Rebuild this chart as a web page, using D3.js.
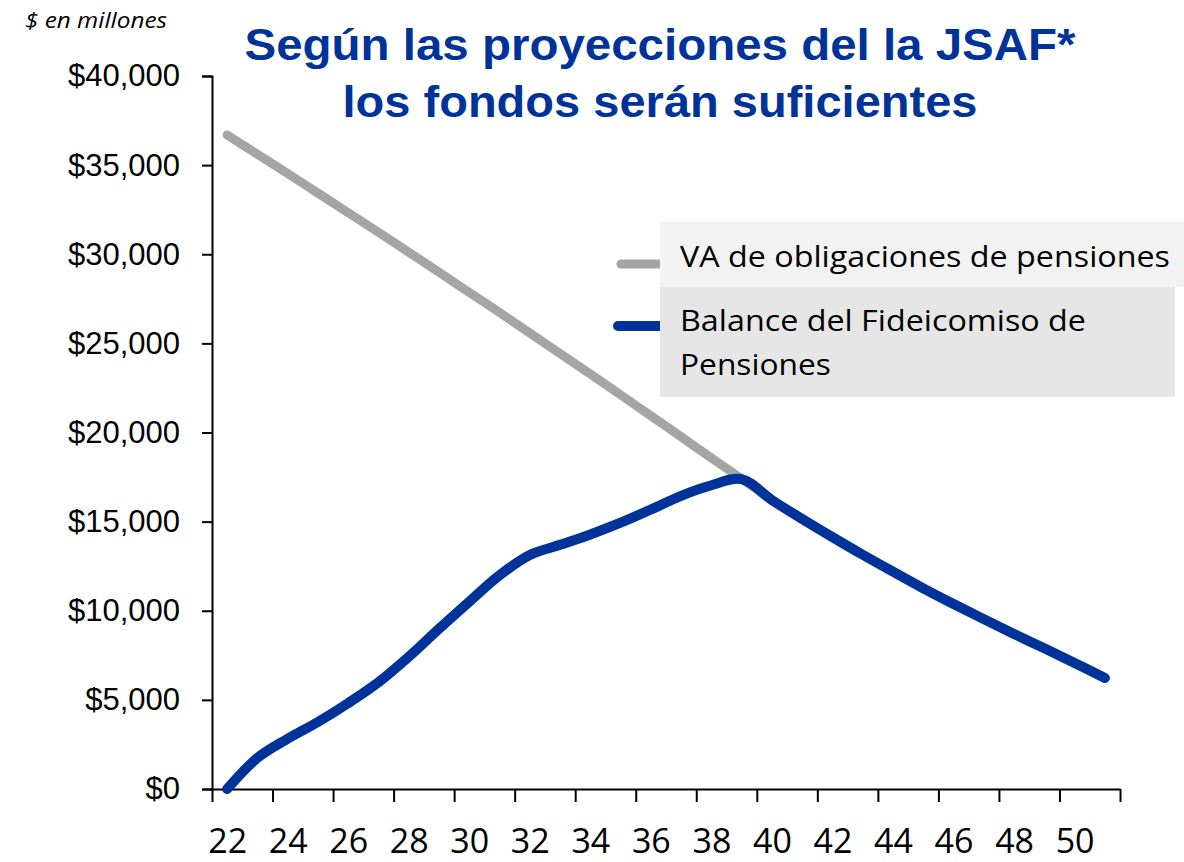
<!DOCTYPE html>
<html>
<head>
<meta charset="utf-8">
<script src="https://cdn.jsdelivr.net/npm/d3@7"></script>
<style>
  body { margin: 0; background: #fff; }
</style>
</head>
<body>
<div class="chart"></div>
<script>

// Datos
const years = [22,23,24,25,26,27,28,29,30,31,32,33,34,35,36,37,38,39,40,41,42,43,44,45,46,47,48,49,50,51];

const obligaciones = [36690,35610,34530,33430,32330,31230,30110,28990,27860,26730,25580,24430,23280,22110,20940,19760,18570,17400,
                      16210,15150,14130,13140,12190,11260,10380,9530,8700,7890,7070,6230];

const fideicomiso = [0,1740,2820,3760,4820,5990,7420,8990,10510,11990,13130,13700,14280,14940,15680,16450,17040,17380,
                     16210,15150,14130,13140,12190,11260,10380,9530,8700,7890,7070,6230];

const yTicks = [0,5000,10000,15000,20000,25000,30000,35000,40000];
const xLabels = [22,24,26,28,30,32,34,36,38,40,42,44,46,48,50];

const titleLines = ["Según las proyecciones del la JSAF*", "los fondos serán suficientes"];
const legendItems = ["VA de obligaciones de pensiones", "Balance del Fideicomiso de Pensiones"];

function drawChart(){

    const width = 1184;
    const height = 862;

    const svg = d3.select(".chart")
        .append("svg")
        .attr("width", width)
        .attr("height", height)
        .style("background", "#fff");

    const x = d3.scaleLinear()
        .domain([21.5, 51.5])
        .range([212, 1120]);

    const y = d3.scaleLinear()
        .domain([0, 40000])
        .range([789, 76]);

    // Eje Y
    const yAxis = svg.append("g")
        .attr("transform", "translate(212,0)")
        .call(d3.axisLeft(y)
            .tickValues(yTicks)
            .tickSize(10)
            .tickPadding(22)
            .tickFormat(d => "$" + d3.format(",")(d)));

    yAxis.select(".domain")
        .attr("stroke", "#000")
        .attr("stroke-width", 2);

    yAxis.selectAll(".tick line")
        .attr("stroke", "#000")
        .attr("stroke-width", 2);

    yAxis.selectAll("text")
        .attr("fill", "#000")
        .style("font-family", "'Liberation Sans', Arial, sans-serif")
        .style("font-size", "31px");

    // Eje X: marcas cada dos años (bordes de categoría)
    const xTickAxis = svg.append("g")
        .attr("transform", "translate(0,789)")
        .call(d3.axisBottom(x)
            .tickValues(d3.range(21.5, 52, 2))
            .tickSize(13)
            .tickSizeOuter(0)
            .tickFormat(""));

    xTickAxis.select(".domain")
        .attr("stroke", "#000")
        .attr("stroke-width", 2);

    xTickAxis.selectAll(".tick line")
        .attr("stroke", "#000")
        .attr("stroke-width", 2);

    // Etiquetas del eje X
    const xLabelAxis = svg.append("g")
        .attr("transform", "translate(0,789)")
        .call(d3.axisBottom(x)
            .tickValues(xLabels)
            .tickSize(0)
            .tickPadding(40));

    xLabelAxis.select(".domain").remove();

    xLabelAxis.selectAll("text")
        .attr("fill", "#000")
        .style("font-family", "'Open Sans', sans-serif")
        .style("font-size", "34px");

    // Líneas
    const line = d3.line()
        .x((d, i) => x(years[i]))
        .y(d => y(d))
        .curve(d3.curveCatmullRom.alpha(0.5));

    svg.append("path")
        .datum(obligaciones)
        .attr("d", line)
        .attr("fill", "none")
        .attr("stroke", "#a5a5a5")
        .attr("stroke-width", 9)
        .attr("stroke-linecap", "round")
        .attr("stroke-linejoin", "round");

    svg.append("path")
        .datum(fideicomiso)
        .attr("d", line)
        .attr("fill", "none")
        .attr("stroke", "#003399")
        .attr("stroke-width", 10)
        .attr("stroke-linecap", "round")
        .attr("stroke-linejoin", "round");

    // Leyenda
    const legendColors = ["#a5a5a5", "#003399"];
    const legendY = [264, 326];

    svg.selectAll(".legend-line")
        .data(legendItems)
        .enter()
        .append("line")
        .attr("class", "legend-line")
        .attr("x1", (d, i) => i === 0 ? 621 : 618)
        .attr("x2", 670)
        .attr("y1", (d, i) => legendY[i])
        .attr("y2", (d, i) => legendY[i])
        .attr("stroke", (d, i) => legendColors[i])
        .attr("stroke-width", (d, i) => i === 0 ? 9 : 10)
        .attr("stroke-linecap", "round");

    svg.append("rect")
        .attr("x", 660)
        .attr("y", 222)
        .attr("width", 524)
        .attr("height", 65)
        .attr("fill", "#f2f2f2");

    svg.append("rect")
        .attr("x", 660)
        .attr("y", 287)
        .attr("width", 515)
        .attr("height", 110)
        .attr("fill", "#e6e6e6");

    const legendFont = "'Open Sans', sans-serif";

    svg.append("text")
        .attr("x", 680)
        .attr("y", 267)
        .attr("textLength", 490)
        .attr("lengthAdjust", "spacingAndGlyphs")
        .style("font-family", legendFont)
        .style("font-size", "29px")
        .attr("fill", "#000")
        .text(legendItems[0]);

    const words = legendItems[1].split(" ");

    svg.append("text")
        .attr("x", 680)
        .attr("y", 331)
        .attr("textLength", 406)
        .attr("lengthAdjust", "spacingAndGlyphs")
        .style("font-family", legendFont)
        .style("font-size", "29px")
        .attr("fill", "#000")
        .text(words.slice(0, 4).join(" "));

    svg.append("text")
        .attr("x", 680)
        .attr("y", 375)
        .attr("textLength", 151)
        .attr("lengthAdjust", "spacingAndGlyphs")
        .style("font-family", legendFont)
        .style("font-size", "29px")
        .attr("fill", "#000")
        .text(words.slice(4).join(" "));

    // Título
    const titleLen = [831, 635];

    svg.selectAll(".title")
        .data(titleLines)
        .enter()
        .append("text")
        .attr("class", "title")
        .attr("x", 660)
        .attr("y", (d, i) => 60 + i * 57)
        .attr("text-anchor", "middle")
        .attr("textLength", (d, i) => titleLen[i])
        .attr("lengthAdjust", "spacingAndGlyphs")
        .style("font-family", "'Liberation Sans', Arial, sans-serif")
        .style("font-weight", "bold")
        .style("font-size", "44px")
        .attr("fill", "#003399")
        .text(d => d);

    // Unidades
    svg.append("text")
        .attr("x", 25)
        .attr("y", 28)
        .attr("textLength", 142)
        .attr("lengthAdjust", "spacingAndGlyphs")
        .style("font-family", "'Open Sans', sans-serif")
        .style("font-style", "italic")
        .style("font-size", "22px")
        .attr("fill", "#000")
        .text("$ en millones");

}

drawChart();

</script>
</body>
</html>
